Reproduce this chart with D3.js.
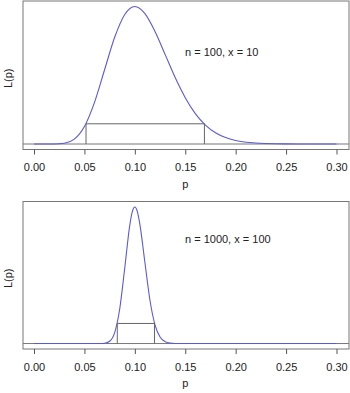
<!DOCTYPE html>
<html>
<head>
<meta charset="utf-8">
<script src="https://cdn.jsdelivr.net/npm/d3@7"></script>
<style>
    body { margin: 0; background: #fff; }
    text { font-family: "Liberation Sans", Arial, sans-serif; }
</style>
</head>
<body>
<div id="canvas"></div>
<script>
"use strict"

/*** DATA (likelihood scaled so the peak = 1) ***/
let xTicks = [0, 0.05, 0.10, 0.15, 0.20, 0.25, 0.30]

// n = 100, x = 10
let p1 = [0, 0.01, 0.02, 0.03, 0.04, 0.05, 0.06, 0.07, 0.08, 0.09, 0.10, 0.11, 0.12, 0.13,
          0.14, 0.15, 0.16, 0.17, 0.18, 0.19, 0.20, 0.22, 0.24, 0.26, 0.28, 0.30]
let L1 = [0, 0, 0.0002, 0.005, 0.035, 0.127, 0.303, 0.540, 0.776, 0.942, 1, 0.948, 0.819, 0.652,
          0.483, 0.337, 0.221, 0.138, 0.082, 0.047, 0.0255, 0.0068, 0.0016, 0.0003, 0, 0]
let ci1 = [0.0516, 0.169]

// n = 1000, x = 100
let p2 = [0, 0.05, 0.06, 0.065, 0.07, 0.075, 0.08, 0.085, 0.09, 0.095, 0.0975, 0.10, 0.1025,
          0.105, 0.11, 0.115, 0.12, 0.125, 0.13, 0.135, 0.14, 0.15, 0.20, 0.30]
let L2 = [0, 0, 0, 0.0002, 0.0021, 0.0164, 0.080, 0.253, 0.553, 0.867, 0.966, 1, 0.966,
          0.873, 0.593, 0.317, 0.137, 0.048, 0.014, 0.0034, 0.0007, 0, 0, 0]
let ci2 = [0.0826, 0.1195]

let ciLevel = 0.147      // height of the interval bar (exp(-1.92))
let labels = ["n = 100, x = 10", "n = 1000, x = 100"]
let labelLevels = [0.64, 0.735]   // annotation baseline in units of L(p)

/*** CANVAS SETUP ***/
let svgWidth = 350
let svgHeight = 393

let svg = d3.select("#canvas")
    .append("svg")
    .attr("width", svgWidth)
    .attr("height", svgHeight)

let boxLeft = 23
let boxRight = 349

let xScale = d3.scaleLinear()
    .domain([0, 0.30])
    .range([34, 336.5])

/**** drawPanel ****
 *  Draws one R-style likelihood panel: box, curve, zero line,
 *  interval bar, bottom axis, labels.
*****/
function drawPanel(top, bottom, ps, Ls, ci, label, labelLevel) {
    let g = svg.append("g")

    // R pads the y range by 4% each side
    let yScale = d3.scaleLinear()
        .domain([-0.04, 1.04])
        .range([bottom, top])

    let pts = ps.map(function (p, i) { return [p, Ls[i]] })

    /* zero line across the whole box */
    g.append("line")
        .attr("x1", boxLeft)
        .attr("x2", boxRight)
        .attr("y1", yScale(0))
        .attr("y2", yScale(0))
        .attr("stroke", "#777")
        .attr("stroke-width", 1)

    /* likelihood curve */
    let line = d3.line()
        .x(function (d) { return xScale(d[0]) })
        .y(function (d) { return yScale(d[1]) })
        .curve(d3.curveMonotoneX)

    g.append("path")
        .datum(pts)
        .attr("d", line)
        .attr("fill", "none")
        .attr("stroke", "#5a5ad6")
        .attr("stroke-width", 1.1)

    /* interval bar: two uprights and a top */
    let bar = [[ci[0], 0], [ci[0], ciLevel], [ci[1], ciLevel], [ci[1], 0]]
    g.append("path")
        .datum(bar)
        .attr("d", d3.line()
            .x(function (d) { return xScale(d[0]) })
            .y(function (d) { return yScale(d[1]) }))
        .attr("fill", "none")
        .attr("stroke", "#666")
        .attr("stroke-width", 1)

    /* plot box */
    g.append("rect")
        .attr("x", boxLeft)
        .attr("y", top)
        .attr("width", boxRight - boxLeft)
        .attr("height", bottom - top)
        .attr("fill", "none")
        .attr("stroke", "#777")
        .attr("stroke-width", 1)

    /* x axis */
    let xAxis = d3.axisBottom(xScale)
        .tickValues(xTicks)
        .tickFormat(d3.format(".2f"))
        .tickSize(5)
        .tickSizeOuter(0)
        .tickPadding(9)

    let ax = g.append("g")
        .attr("transform", "translate(0," + bottom + ")")
        .call(xAxis)
    ax.select(".domain").remove()
    ax.selectAll("line").attr("stroke", "#555")
    ax.selectAll("text")
        .attr("fill", "#222")
        .attr("font-size", "11px")
        .attr("font-family", "Liberation Sans, Arial, sans-serif")

    /* axis titles */
    g.append("text")
        .attr("x", (xScale(0) + xScale(0.3)) / 2)
        .attr("y", bottom + 38)
        .attr("text-anchor", "middle")
        .attr("font-size", "11px")
        .attr("fill", "#222")
        .text("p")

    g.append("text")
        .attr("transform", "translate(12," + ((top + bottom) / 2 + 3) + ") rotate(-90)")
        .attr("text-anchor", "middle")
        .attr("font-size", "11px")
        .attr("fill", "#222")
        .text("L(p)")

    /* annotation */
    g.append("text")
        .attr("x", 185)
        .attr("y", yScale(labelLevel))
        .attr("font-size", "11px")
        .attr("fill", "#222")
        .text(label)
}

drawPanel(1, 149.5, p1, L1, ci1, labels[0], labelLevels[0])
drawPanel(201.5, 349, p2, L2, ci2, labels[1], labelLevels[1])
</script>
</body>
</html>
